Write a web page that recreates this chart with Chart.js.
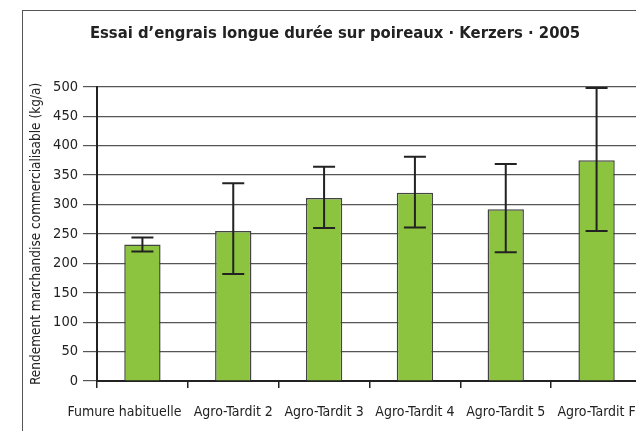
<!DOCTYPE html>
<html><head><meta charset="utf-8">
<script src="https://cdn.jsdelivr.net/npm/chart.js@4/dist/chart.umd.min.js"></script>
<style>
html,body{margin:0;padding:0;background:#fff;overflow:hidden;width:636px;height:431px;}
#frame{position:absolute;left:22px;top:10px;width:640px;height:440px;border:1px solid #555;box-sizing:border-box;}
#wrap{position:absolute;left:0;top:0;width:680px;height:431px;}
</style></head>
<body>
<div id="frame"></div>
<div id="wrap"><canvas id="c" width="680" height="431"></canvas></div>
<script>
const categories = ["Fumure habituelle","Agro-Tardit 2","Agro-Tardit 3","Agro-Tardit 4","Agro-Tardit 5","Agro-Tardit F"];
const yieldValues = [232, 255, 311, 320, 292, 375];
const errLow  = [220, 182, 260, 261, 219, 255];
const errHigh = [244, 336, 364, 381, 369, 498];
const yTicks = [0,50,100,150,200,250,300,350,400,450,500];

const FONT = "'Liberation Sans Narrow','DejaVu Sans Condensed','Liberation Sans',sans-serif";

const errorBars = {
  id:'errorBars',
  afterDatasetsDraw(chart){
    const ctx = chart.ctx, x = chart.scales.x, y = chart.scales.y;
    ctx.save();
    ctx.strokeStyle = '#222'; ctx.lineWidth = 2;
    categories.forEach((c,i)=>{
      const px = x.getPixelForValue(i);
      const yl = y.getPixelForValue(errLow[i]), yh = y.getPixelForValue(errHigh[i]);
      ctx.beginPath();
      ctx.moveTo(px, yl); ctx.lineTo(px, yh);
      ctx.moveTo(px-11, yl); ctx.lineTo(px+11, yl);
      ctx.moveTo(px-11, yh); ctx.lineTo(px+11, yh);
      ctx.stroke();
    });
    ctx.restore();
  }
};

new Chart(document.getElementById('c'), {
  type:'bar',
  data:{ labels:categories, datasets:[{
    data:yieldValues, backgroundColor:'#8cc43f', borderColor:'#444', borderWidth:1.5,
    barPercentage:0.8, categoryPercentage:0.5
  }]},
  options:{
    responsive:false, animation:false,
    layout:{padding:{left:28,right:38,top:0,bottom:0}},
    plugins:{
      legend:{display:false}, tooltip:{enabled:false},
      title:{display:true, text:"Essai d’engrais longue durée sur poireaux · Kerzers · 2005",
        color:'#222', font:{family:FONT, size:16.5, weight:'bold'}, padding:{top:24,bottom:43}}
    },
    scales:{
      x:{
        offset:true,
        grid:{display:true, drawOnChartArea:false, drawTicks:true, tickLength:7, offset:true, color:'#222', lineWidth:1.5},
        border:{display:true, color:'#222', width:2},
        ticks:{color:'#222', font:{family:FONT, size:14}, padding:16, maxRotation:0, autoSkip:false,
          callback(v,i){ const l = categories[i]; return i===0 ? l + '         ' : l; }},
        afterFit(s){ s.height = 50; }
      },
      y:{
        min:0, max:500,
        afterBuildTicks(s){ s.ticks = yTicks.map(v=>({value:v})); },
        grid:{color:'#555', lineWidth:1.2, tickLength:14, drawTicks:true},
        border:{display:true, color:'#222', width:2},
        ticks:{color:'#222', font:{family:FONT, size:14.5}, padding:5},
        title:{display:true, text:'Rendement marchandise commercialisable (kg/a)', color:'#222',
          font:{family:FONT, size:13.5}, padding:{top:0,bottom:0}},
        afterFit(s){ s.width = 69; }
      }
    }
  },
  plugins:[errorBars]
});
</script>
</body></html>
